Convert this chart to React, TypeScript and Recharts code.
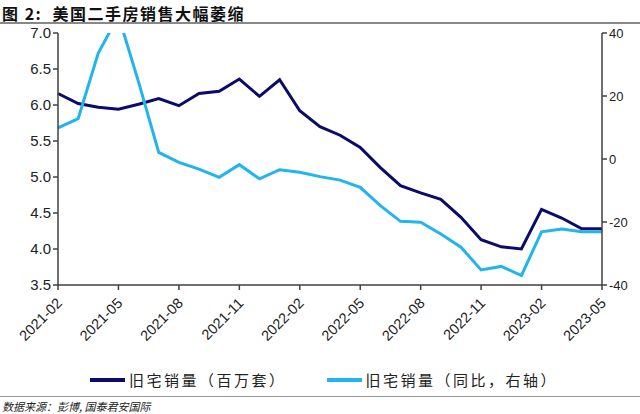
import React from 'react';
import { LineChart, Line, XAxis, YAxis } from 'recharts';

const months = [
  '2021-02', '2021-03', '2021-04', '2021-05', '2021-06', '2021-07', '2021-08',
  '2021-09', '2021-10', '2021-11', '2021-12', '2022-01', '2022-02', '2022-03',
  '2022-04', '2022-05', '2022-06', '2022-07', '2022-08', '2022-09', '2022-10',
  '2022-11', '2022-12', '2023-01', '2023-02', '2023-03', '2023-04', '2023-05',
];

// 旧宅销量（百万套）
const salesMn = [
  6.16, 6.02, 5.97, 5.94, 6.01, 6.09, 5.99, 6.16, 6.19, 6.36, 6.12, 6.35, 5.92, 5.7,
  5.58, 5.41, 5.13, 4.88, 4.78, 4.69, 4.44, 4.13, 4.03, 4.0, 4.55, 4.43, 4.28, 4.28,
];

// 旧宅销量（同比，右轴）
const salesYoy = [
  9.9, 12.8, 33.6, 45.5, 24.4, 2.1, -1.1, -3.2, -5.8, -1.8, -6.3, -3.4, -4.2, -5.6,
  -6.7, -9.0, -14.8, -19.8, -20.1, -23.8, -28.0, -35.2, -34.1, -37.0, -23.1, -22.2, -23.1, -23.1,
];

const leftTicks = [3.5, 4.0, 4.5, 5.0, 5.5, 6.0, 6.5, 7.0];
const rightTicks = [-40, -20, 0, 20, 40];

const DARK = '#0b0b6b';
const LIGHT = '#22b4ec';
const AXIS = '#404040';
const FONT = 'Arial, "Liberation Sans", "Noto Sans CJK SC", sans-serif';

const data = months.map((m, i) => ({ month: m, mn: salesMn[i], yoy: salesYoy[i] }));

const DateTick = (props: any) => {
  const { x, y, payload } = props;
  return (
    <text
      x={x + 5}
      y={y + 12}
      transform={`rotate(-45, ${x + 5}, ${y + 12})`}
      textAnchor="end"
      fontSize={14.5}
      fill="#222"
      fontFamily={FONT}
    >
      {payload.value}
    </text>
  );
};

const LegendItem = ({ color, label }: { color: string; label: string }) => (
  <div style={{ display: 'flex', alignItems: 'center' }}>
    <div style={{ width: 35, height: 4, background: color, marginRight: 4 }} />
    <span style={{ letterSpacing: 2.5 }}>{label}</span>
  </div>
);

export default function App() {
  return (
    <div
      style={{
        position: 'absolute',
        left: 0,
        top: 0,
        width: 640,
        height: 414,
        background: '#fff',
        fontFamily: FONT,
        overflow: 'hidden',
      }}
    >
      <div
        style={{
          position: 'absolute',
          left: 2,
          top: 1,
          fontSize: 16,
          fontWeight: 'bold',
          letterSpacing: 1.5,
          color: '#111',
          fontFamily: '"Noto Sans CJK SC", sans-serif',
        }}
      >
        图 2:&nbsp;&nbsp;美国二手房销售大幅萎缩
      </div>
      <div style={{ position: 'absolute', left: 0, top: 22, width: 640, height: 1.5, background: '#888' }} />

      <div style={{ position: 'absolute', left: 0, top: 0 }}>
        <LineChart width={640} height={350} data={data} margin={{ top: 33, right: 0, left: 0, bottom: 0 }}>
          <XAxis
            dataKey="month"
            interval={2}
            tick={<DateTick />}
            tickSize={5}
            height={65}
            axisLine={{ stroke: AXIS, strokeWidth: 1.5 }}
            tickLine={{ stroke: AXIS, strokeWidth: 1.5 }}
          />
          <YAxis
            yAxisId="left"
            domain={[3.5, 7]}
            ticks={leftTicks}
            width={58}
            tickSize={5}
            tickFormatter={(v: number) => v.toFixed(1)}
            tick={{ fontSize: 15, fill: '#222', fontFamily: FONT }}
            axisLine={{ stroke: AXIS, strokeWidth: 1.5 }}
            tickLine={{ stroke: AXIS, strokeWidth: 1.5 }}
            allowDataOverflow
          />
          <YAxis
            yAxisId="right"
            orientation="right"
            domain={[-40, 40]}
            ticks={rightTicks}
            width={38}
            tickSize={5}
            tick={{ fontSize: 13, fill: '#222', fontFamily: FONT }}
            axisLine={{ stroke: AXIS, strokeWidth: 1.5 }}
            tickLine={{ stroke: AXIS, strokeWidth: 1.5 }}
            allowDataOverflow
          />
          <Line
            yAxisId="left"
            dataKey="mn"
            stroke={DARK}
            strokeWidth={3}
            dot={false}
            type="linear"
            isAnimationActive={false}
          />
          <Line
            yAxisId="right"
            dataKey="yoy"
            stroke={LIGHT}
            strokeWidth={3}
            dot={false}
            type="linear"
            isAnimationActive={false}
          />
        </LineChart>
      </div>

      <div
        style={{
          position: 'absolute',
          left: 90,
          top: 369,
          display: 'flex',
          gap: 40,
          fontSize: 15,
          color: '#222',
          fontFamily: '"Noto Sans CJK SC", sans-serif',
        }}
      >
        <LegendItem color={DARK} label="旧宅销量（百万套）" />
        <LegendItem color={LIGHT} label="旧宅销量（同比，右轴）" />
      </div>

      <div style={{ position: 'absolute', left: 0, top: 396, width: 640, height: 1, background: '#999' }} />
      <div
        style={{
          position: 'absolute',
          left: 2,
          top: 398,
          fontSize: 11,
          fontStyle: 'italic',
          color: '#222',
          fontFamily: '"Noto Sans CJK SC", sans-serif',
        }}
      >
        数据来源：彭博, 国泰君安国际
      </div>
    </div>
  );
}
